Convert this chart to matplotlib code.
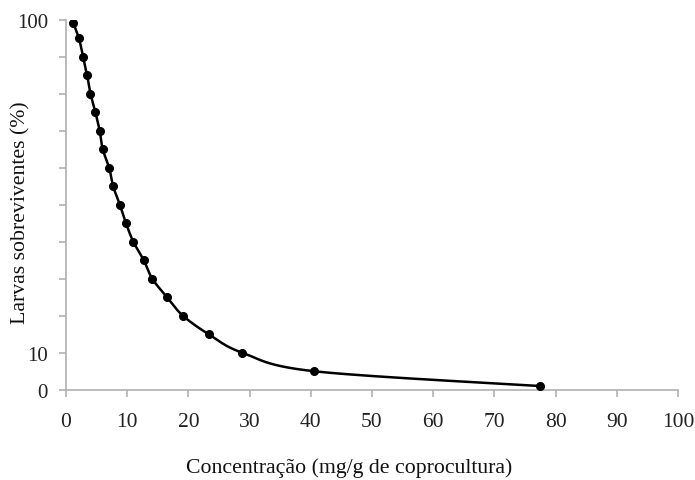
import numpy as np
import matplotlib
matplotlib.use("Agg")
import matplotlib.pyplot as plt

# Data
concentration = [1.2, 2.1, 2.8, 3.45, 4.0, 4.8, 5.5, 6.0, 7.05, 7.7, 8.8, 9.8,
                 11.0, 12.7, 14.1, 16.5, 19.1, 23.3, 28.8, 40.5, 77.4]
survivors = [99, 95, 90, 85, 80, 75, 70, 65, 60, 55, 50, 45,
             40, 35, 30, 25, 20, 15, 10, 5, 1]
x_ticks = list(range(0, 101, 10))
y_ticks = list(range(0, 101, 10))
y_tick_labels = ["0", "10", "", "", "", "", "", "", "", "", "100"]

plt.rcParams['font.family'] = ['Liberation Serif', 'DejaVu Serif']

fig = plt.figure(figsize=(6.95, 4.81), dpi=100)
ax = fig.add_axes([66/695, 1-390.7/481, (678-66)/695, (390.7-20.7)/481])

# Smooth line (Excel-like Bezier smoothing) in display-proportional space
sx, sy = 6.12, 3.7
P = np.column_stack([np.array(concentration)*sx, np.array(survivors)*sy])
n = len(P)
curve = []
for i in range(n-1):
    p0 = P[i-1] if i > 0 else P[i]
    p1 = P[i]
    p2 = P[i+1]
    p3 = P[i+2] if i+2 < n else P[i+1]
    c1 = p1 + (p2 - p0)/6
    c2 = p2 - (p3 - p1)/6
    t = np.linspace(0, 1, 40)[:, None]
    seg = (1-t)**3*p1 + 3*(1-t)**2*t*c1 + 3*(1-t)*t**2*c2 + t**3*p2
    curve.append(seg)
curve = np.vstack(curve)
ax.plot(curve[:, 0]/sx, curve[:, 1]/sy, color='black', lw=1.8, zorder=2)
ax.plot(concentration, survivors, 'o', color='black', ms=5.5, zorder=3)

ax.set_xlim(0, 100)
ax.set_ylim(0, 100)
ax.set_xticks(x_ticks)
ax.set_yticks(y_ticks)
ax.set_yticklabels(y_tick_labels)
for s in ['top', 'right']:
    ax.spines[s].set_visible(False)
for s in ['left', 'bottom']:
    ax.spines[s].set_color('#b0b0b0')
    ax.spines[s].set_linewidth(1.2)
ax.tick_params(axis='both', colors='#b0b0b0', width=1.2, length=5, direction='out')
ax.tick_params(axis='x', labelcolor='#222222', labelsize=15.5, pad=11)
ax.tick_params(axis='y', labelcolor='#222222', labelsize=15, pad=8)

fig.text(349/695, 1-468/481, 'Concentração (mg/g de coprocultura)', ha='center', va='center',
         fontsize=15.7, color='#111111')
fig.text(21/695, 1-213/481, 'Larvas sobreviventes (%)', ha='center', va='center',
         rotation=90, fontsize=15.7, color='#111111')

fig.savefig('out.png', dpi=100)
